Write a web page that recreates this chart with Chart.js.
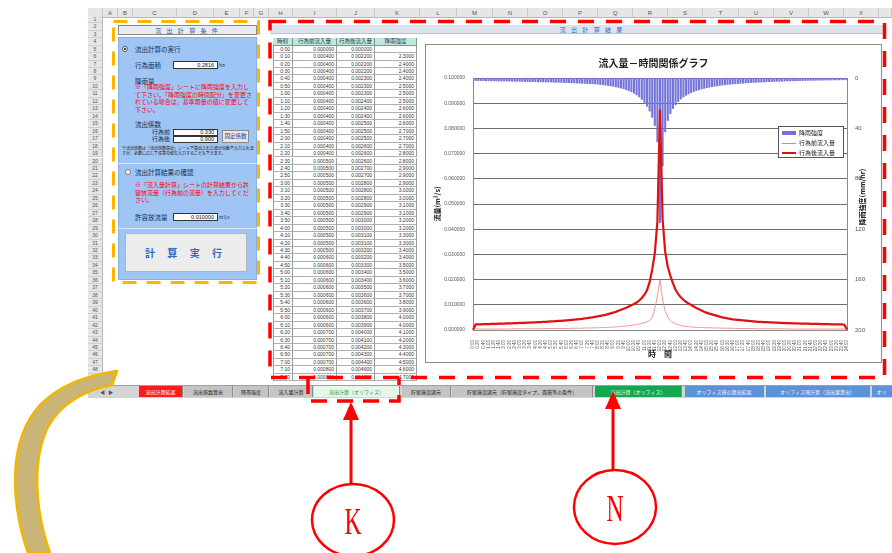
<!DOCTYPE html>
<html>
<head>
<meta charset="utf-8">
<script src="https://cdn.jsdelivr.net/npm/chart.js@4.4.1/dist/chart.umd.min.js"></script>
<style>
  html, body { margin: 0; padding: 0; }
  body { width: 892px; height: 553px; overflow: hidden; background: #fff; position: relative;
         font-family: "Noto Sans CJK JP", "Noto Sans", sans-serif; }
  .a { position: absolute; box-sizing: border-box; }
  .colhdr { top: 8px; height: 10px; background: #e6e6e6; border-right: 1px solid #c8c8c8;
            border-bottom: 1px solid #b8b8b8; font: 6px "Liberation Sans", sans-serif; color: #555;
            text-align: center; line-height: 10px; }
  .rownum { left: 88px; width: 15px; background: #e6e6e6; border-bottom: 1px solid #cfcfcf;
            border-right: 1px solid #b8b8b8; font: 5px "Liberation Sans", sans-serif; color: #555;
            text-align: center; }
  .cell { border-right: 1px solid #9a9a9a; border-bottom: 1px solid #b0b0b0; font: 5px "Liberation Sans", sans-serif;
          color: #333; text-align: right; padding-right: 2px; white-space: nowrap; overflow: hidden; }
  .th { border-right: 1px solid #7a9a90; border-bottom: 1px solid #7a9a90; background: #c4e6da;
        font: 5.5px "Noto Sans CJK JP", sans-serif; color: #1a3a60; text-align: center; white-space: nowrap; overflow: hidden; }
  .lbl { font-size: 6.5px; color: #10305a; white-space: nowrap; }
  .red { font-size: 6px; color: #ff0000; line-height: 7.6px; }
  .inp { background: #fff; border: 1px solid #333; font: 5.5px "Liberation Sans", sans-serif; text-align: right;
         padding-right: 3px; color: #111; }
  .tab { top: 386px; height: 11px; font-size: 5px; line-height: 11px; text-align: center; white-space: nowrap;
         overflow: hidden; border-right: 1px solid #8a8a8a; }
  #chartBox { left: 425px; top: 44px; width: 457px; height: 319px; background: #fff; border: 1px solid #8c8c8c; }
  #legend { left: 778px; top: 126px; width: 66px; height: 32px; background: #fff; border: 1px solid #555;
            font-size: 6px; color: #222; }
  #legend div { position: absolute; left: 20px; white-space: nowrap; }
  #legend span { position: absolute; }
</style>
</head>
<body>

<div id="sheet"></div>

<!-- left panel: calculation conditions -->
<div class="a" style="left:118px;top:25px;width:139px;height:10px;background:#e8ecf2;border:1px solid #8a8a8a;font-size:6px;color:#2a5aa0;text-align:center;line-height:9px;letter-spacing:2px;">流 出 計 算 条 件</div>
<div class="a" style="left:118px;top:37px;width:139px;height:243px;background:#9ec5f4;border:1px solid #8aaedc;"></div>
<div class="a" style="left:122px;top:46px;width:6px;height:6px;border-radius:50%;background:#fff;border:1px solid #555;"></div>
<div class="a" style="left:124px;top:48px;width:2px;height:2px;border-radius:50%;background:#000;"></div>
<div class="a lbl" style="left:135px;top:44px;">流出計算の実行</div>
<div class="a lbl" style="left:135px;top:60px;">行為面積</div>
<div class="a inp" style="left:173px;top:61px;width:45px;height:8px;line-height:6px;">0.2816</div>
<div class="a lbl" style="left:219px;top:61px;font-size:5px;">ha</div>
<div class="a lbl" style="left:135px;top:76px;">降雨量</div>
<div class="a red" style="left:135px;top:83px;width:117px;">※「降雨強度」シートに降雨強度を入力して下さい。「降雨強度の時間配分」を変更されている場合は、基準雨量の値に変更して下さい。</div>
<div class="a lbl" style="left:135px;top:119px;">流出係数</div>
<div class="a lbl" style="left:152px;top:127px;font-size:6px;">行為前</div>
<div class="a lbl" style="left:152px;top:134px;font-size:6px;">行為後</div>
<div class="a inp" style="left:173px;top:129px;width:45px;height:7px;line-height:5px;">0.330</div>
<div class="a inp" style="left:173px;top:136px;width:45px;height:7px;line-height:5px;">0.900</div>
<div class="a" style="left:222px;top:130px;width:27px;height:13px;background:#e4e8ee;border:1px solid #8a8a8a;font-size:5.5px;color:#20407a;text-align:center;line-height:11px;">固定係数</div>
<div class="a" style="left:122px;top:146px;width:132px;font-size:4px;line-height:5px;color:#111;">※流出係数は「流出係数算出」シートで算出された値が自動で入力されますが、必要に応じて任意の値を入力することもできます。</div>
<div class="a" style="left:118px;top:163px;width:139px;height:1px;background:#d6e6fa;"></div>
<div class="a" style="left:125px;top:169px;width:6px;height:6px;border-radius:50%;background:#fff;border:1px solid #777;"></div>
<div class="a lbl" style="left:135px;top:167px;">流出計算結果の確認</div>
<div class="a red" style="left:135px;top:181px;width:117px;">※「流入量計算」シートの計算結果から許容放流量（行為前の流量）を入力してください。</div>
<div class="a lbl" style="left:135px;top:212px;">許容放流量</div>
<div class="a inp" style="left:173px;top:213px;width:45px;height:8px;line-height:6px;">0.010000</div>
<div class="a lbl" style="left:219px;top:214px;font-size:4.5px;">m3/s</div>
<div class="a" style="left:118px;top:228px;width:139px;height:1px;background:#d6e6fa;"></div>
<div class="a" style="left:125px;top:233px;width:122px;height:39px;background:#ececec;border:1px solid #b4b4b4;font-size:10px;font-weight:bold;color:#2f6bc4;text-align:center;line-height:37px;letter-spacing:5px;">計 算 実 行</div>

<!-- result area -->
<div class="a" style="left:270px;top:25px;width:614px;height:9px;background:#dce3ec;border-bottom:1px solid #b8c2d0;font-size:6px;color:#2a6ad0;text-align:center;line-height:9px;letter-spacing:2px;padding-left:30px;">流 出 計 算 結 果</div>
<div id="table"></div>

<div id="chartBox" class="a"><canvas id="c" width="455" height="317"></canvas></div>
<div class="a" style="left:862px;top:197px;width:0;height:0;">
  <div style="position:absolute;left:-40px;top:-5px;width:80px;text-align:center;transform:rotate(-90deg);font-size:7px;font-weight:bold;color:#222;white-space:nowrap;">降雨強度(mm/hr)</div>
</div>
<div id="legend" class="a">
  <span style="left:3px;top:4px;width:14px;height:4px;background:#7373da;"></span>
  <div style="top:1px;">降雨強度</div>
  <span style="left:3px;top:16px;width:14px;height:1px;background:#f07c7c;"></span>
  <div style="top:11px;">行為前流入量</div>
  <span style="left:3px;top:25px;width:14px;height:2px;background:#e01010;"></span>
  <div style="top:21px;">行為後流入量</div>
</div>

<!-- sheet tabs -->
<div class="a" style="left:88px;top:385px;width:804px;height:13px;background:#d4d4d4;border-top:1px solid #a0a0a0;"></div>
<div class="a" style="left:100px;top:386px;font-size:5px;color:#555;line-height:11px;">◀ &nbsp; ▶</div>
<div id="tabs"></div>

<!-- annotation layer -->
<svg class="a" style="left:0;top:0;" width="892" height="553" viewBox="0 0 892 553">
  <path d="M 28 553 C 10 500 8 440 40 405 C 60 385 85 376 117 371 L 112 385 C 86 390 63 402 49 425 C 33 455 33 505 50 553 Z"
        fill="#c9b577" stroke="#f2b600" stroke-width="2.5" stroke-linejoin="round"/>
  <rect x="113.5" y="21.5" width="145" height="261" fill="none" stroke="#ffb400" stroke-width="3" stroke-dasharray="14 10"/>
  <rect x="270" y="21.5" width="614.5" height="356" fill="none" stroke="#ff0000" stroke-width="3.5" stroke-dasharray="16 12"/>
  <path d="M 308 378 L 308 401 L 399 401 L 399 378" fill="none" stroke="#ff0000" stroke-width="3.5" stroke-dasharray="16 10"/>
  <line x1="351" y1="484" x2="351" y2="418" stroke="#ff0000" stroke-width="3"/>
  <path d="M 351 402 L 343 420 L 359 420 Z" fill="#ff0000"/>
  <ellipse cx="353" cy="520" rx="41" ry="36" fill="#fff" stroke="#ff0000" stroke-width="2.5"/>
  <text x="353" y="534" text-anchor="middle" font-family="Liberation Serif, serif" font-size="38" fill="#ff0000" transform="translate(353 0) scale(0.62 1) translate(-353 0)">K</text>
  <line x1="613" y1="471" x2="613" y2="407" stroke="#ff0000" stroke-width="3"/>
  <path d="M 613 391 L 605 409 L 621 409 Z" fill="#ff0000"/>
  <ellipse cx="615" cy="507" rx="41" ry="37" fill="#fff" stroke="#ff0000" stroke-width="2.5"/>
  <text x="615" y="521" text-anchor="middle" font-family="Liberation Serif, serif" font-size="38" fill="#ff0000" transform="translate(615 0) scale(0.62 1) translate(-615 0)">N</text>
</svg>

<script>
// time axis: 10-minute steps over 24 hours
const times = [];
for (let m = 0; m <= 1440; m += 10) times.push(Math.floor(m / 60) + ':' + String(m % 60).padStart(2, '0'));

// rainfall intensity (mm/hr)
const rainIntensity = [
  2.3,2.3,2.4,2.4,2.4,2.5,2.5,2.5,2.6,2.6,
  2.6,2.7,2.7,2.7,2.8,2.8,2.9,2.9,2.9,3.0,
  3.0,3.1,3.1,3.2,3.2,3.3,3.3,3.4,3.4,3.5,
  3.5,3.6,3.7,3.7,3.8,3.9,4.0,4.0,4.1,4.2,
  4.3,4.4,4.5,4.6,4.7,4.8,4.9,5.0,5.2,5.4,
  5.6,5.9,6.2,6.5,6.9,7.3,7.8,8.3,8.9,9.6,
  10.4,11.3,12.4,13.7,15.3,17.2,19.6,22.6,26.5,31.5,
  38.0,51.0,115.0,70.0,43.0,34.0,28.5,24.5,21.5,19.0,
  17.0,15.4,14.0,12.9,11.9,11.0,10.3,9.6,9.0,8.5,
  8.0,7.6,7.2,6.8,6.5,6.2,5.9,5.7,5.4,5.2,
  5.0,
  4.8,4.7,4.5,4.4,4.2,4.1,3.9,3.8,3.7,3.6,
  3.5,3.4,3.3,3.2,3.1,3.0,2.9,2.9,2.8,2.7,
  2.6,2.6,2.5,2.5,2.4,2.4,2.3,2.3,2.2,2.2,
  2.1,2.1,2.0,2.0,2.0,1.9,1.9,1.9,1.8,1.8,
  1.8,1.7,1.7,1.7
];

// inflow before development (m3/s)
const inflowBefore = [
  0,
  0.0004,0.0004,0.0004,0.0004,0.0004,0.0004,0.0004,0.0004,0.0004,0.0004,
  0.0004,0.0004,0.0004,0.0004,0.0005,0.0005,0.0005,0.0005,0.0005,0.0005,
  0.0005,0.0005,0.0005,0.0005,0.0005,0.0005,0.0005,0.0006,0.0006,0.0006,
  0.0006,0.0006,0.0006,0.0006,0.0006,0.0006,0.0006,0.0007,0.0007,0.0007,
  0.0007,0.0007,0.0008,0.0008,0.0008,0.0008,0.0009,0.0009,0.0009,0.0010,
  0.0010,0.0011,0.0011,0.0012,0.0012,0.0013,0.0014,0.0015,0.0016,0.0017,
  0.0019,0.0020,0.0022,0.0024,0.0026,0.0029,0.0033,0.0038,0.0050,0.0085,0.0135,
  0.0199,
  0.0120,0.0075,0.0052,0.0038,0.0030,0.0025,0.0021,0.0018,0.0016,0.0014,
  0.0013,0.0012,0.0011,0.0011,0.0010,0.0010,0.0009,0.0009,0.0009,0.0008,
  0.0008,0.0008,0.0008,0.0007,0.0007,0.0007,0.0007,0.0007,0.0006,0.0006,
  0.0006,0.0006,0.0006,0.0006,0.0006,0.0006,0.0005,0.0005,0.0005,0.0005,
  0.0005,0.0005,0.0005,0.0005,0.0005,0.0005,0.0005,0.0005,0.0004,0.0004,
  0.0004,0.0004,0.0004,0.0004,0.0004,0.0004,0.0004,0.0004,0.0004,0.0004,
  0.0004,0.0004,0.0004,0.0004,0.0004,0.0004,0.0004,0.0004,0.0004,0.0004,0.0004,
  0
];

// inflow after development (m3/s)
const inflowAfter = [
  0,
  0.0022,0.0022,0.0022,0.0023,0.0023,0.0023,0.0024,0.0024,0.0024,0.0025,
  0.0025,0.0025,0.0026,0.0026,0.0026,0.0027,0.0027,0.0028,0.0028,0.0028,
  0.0029,0.0029,0.0030,0.0030,0.0031,0.0031,0.0032,0.0032,0.0033,0.0034,
  0.0034,0.0035,0.0036,0.0036,0.0037,0.0038,0.0039,0.0040,0.0041,0.0042,
  0.0043,0.0044,0.0046,0.0047,0.0049,0.0050,0.0052,0.0054,0.0056,0.0058,
  0.0060,0.0063,0.0066,0.0069,0.0072,0.0076,0.0080,0.0084,0.0088,0.0093,
  0.0098,0.0103,0.0109,0.0117,0.0127,0.0140,0.0158,0.0190,0.0240,0.0305,0.0430,
  0.0875,
  0.0440,0.0310,0.0250,0.0215,0.0185,0.0160,0.0142,0.0130,0.0120,0.0112,
  0.0105,0.0099,0.0093,0.0087,0.0082,0.0077,0.0072,0.0068,0.0065,0.0062,
  0.0059,0.0056,0.0053,0.0050,0.0048,0.0046,0.0044,0.0042,0.0041,0.0040,
  0.0039,0.0038,0.0037,0.0036,0.0035,0.0034,0.0033,0.0032,0.0032,0.0031,
  0.0031,0.0030,0.0030,0.0029,0.0029,0.0028,0.0028,0.0027,0.0027,0.0027,
  0.0026,0.0026,0.0026,0.0025,0.0025,0.0025,0.0025,0.0024,0.0024,0.0024,
  0.0024,0.0023,0.0023,0.0023,0.0023,0.0022,0.0022,0.0022,0.0022,0.0022,0.0021,
  0
];

const tableHeaders = ['時刻', '行為前流入量', '行為後流入量', '降雨強度'];
// sheet tabs: name, fill, text colour, left, width
const sheetTabs = [
  ['流出計算結果', '#ff1a1a', '#fff', 139, 44],
  ['流出係数算出', '#c4c4c4', '#222', 184, 49],
  ['降雨強度', '#c4c4c4', '#222', 234, 35],
  ['流入量計算', '#c4c4c4', '#222', 270, 43],
  ['流出計算（オリフィス）', '#e6f6ea', '#2a9a4a', 314, 86],
  ['貯留施設諸元', '#c4c4c4', '#222', 402, 49],
  ['貯留施設諸元（貯留施設タイプ、面積等の条件）', '#c4c4c4', '#222', 452, 141],
  ['流出計算（オリフィス）', '#12a84e', '#e8ffe8', 595, 87],
  ['オリフィス径の算出結果', '#5b93d6', '#eef4ff', 685, 79],
  ['オリフィス径計算（流出量算出）', '#5b93d6', '#eef4ff', 766, 104],
  ['オリ', '#5b93d6', '#eef4ff', 872, 20]
];

// spreadsheet frame: column letters and row numbers
(function () {
  const sheet = document.getElementById('sheet');
  const cols = [['A',103,118],['B',118,133],['C',133,177],['D',177,214],['E',214,240],['F',240,254],['G',254,269],
    ['H',269,293],['I',293,337],['J',337,375],['K',375,420],['L',420,457],['M',457,493],['N',493,528],['O',528,563],
    ['P',563,598],['Q',598,633],['R',633,668],['S',668,703],['T',703,739],['U',739,774],['V',774,809],['W',809,844],
    ['X',844,879],['',879,892]];
  let html = '<div class="a colhdr" style="left:88px;width:15px;"></div>';
  cols.forEach(c => { html += `<div class="a colhdr" style="left:${c[1]}px;width:${c[2]-c[1]}px;">${c[0]}</div>`; });
  for (let r = 1; r <= 50; r++) {
    const top = 45.6 + (r - 5) * 7.46;
    const h = Math.min(7.46, 385 - top);
    if (h <= 0) break;
    html += `<div class="a rownum" style="top:${top}px;height:${h}px;line-height:${h}px;">${r}</div>`;
  }
  sheet.innerHTML = html;
})();

// result table built from the same series
(function () {
  const t = document.getElementById('table');
  const cx = [273, 293, 337, 375, 417];
  let html = '';
  tableHeaders.forEach((h, j) => {
    html += `<div class="a th" style="left:${cx[j]}px;top:38px;width:${cx[j+1]-cx[j]}px;height:7.6px;line-height:7px;">${h}</div>`;
  });
  for (let i = 0; i <= 44; i++) {
    const top = 45.6 + i * 7.46;
    const vals = [times[i], inflowBefore[i].toFixed(6), inflowAfter[i].toFixed(6), i === 0 ? '' : rainIntensity[i].toFixed(4)];
    vals.forEach((v, j) => {
      html += `<div class="a cell" style="left:${cx[j]}px;top:${top}px;width:${cx[j+1]-cx[j]}px;height:7.46px;line-height:7px;${j===0?'border-left:1px solid #9a9a9a;':''}">${v}</div>`;
    });
  }
  t.innerHTML = html;
})();

// sheet tabs
(function () {
  const el = document.getElementById('tabs');
  let html = '';
  sheetTabs.forEach(t => {
    html += `<div class="a tab" style="left:${t[3]}px;width:${t[4]}px;background:${t[1]};color:${t[2]};">${t[0]}</div>`;
  });
  el.innerHTML = html;
})();

const jp = '"Noto Sans CJK JP", sans-serif';
new Chart(document.getElementById('c'), {
  type: 'bar',
  data: {
    labels: times,
    datasets: [
      { type: 'line', label: '行為前流入量', data: inflowBefore, yAxisID: 'y', borderColor: '#f07c7c',
        borderWidth: 0.8, pointRadius: 0, tension: 0, order: 1 },
      { type: 'line', label: '行為後流入量', data: inflowAfter, yAxisID: 'y', borderColor: '#e01010',
        borderWidth: 2.2, pointRadius: 0, tension: 0, order: 2 },
      { type: 'bar', label: '降雨強度', data: rainIntensity, yAxisID: 'y2', backgroundColor: '#7373da',
        borderWidth: 0, categoryPercentage: 0.8, barPercentage: 1.0, order: 3 }
    ]
  },
  options: {
    responsive: false,
    animation: false,
    layout: { padding: 0 },
    plugins: {
      legend: { display: false },
      tooltip: { enabled: false },
      title: { display: true, text: '流入量－時間関係グラフ', color: '#222',
               font: { family: jp, size: 10, weight: 'bold' }, padding: { top: 12, bottom: 9 } }
    },
    scales: {
      x: {
        offset: false,
        grid: { display: false },
        border: { color: '#8a8a8a' },
        ticks: { autoSkip: false, minRotation: 90, maxRotation: 90, padding: 2, color: '#555',
                 font: { family: '"Liberation Sans", sans-serif', size: 4.5 },
                 callback: (v, i) => (i % 2 === 0 ? times[i] : '') },
        title: { display: true, text: '時　間', color: '#222', font: { family: jp, size: 8, weight: 'bold' },
                 padding: { top: 0, bottom: 3 } },
        afterFit: s => { s.height = 32; }
      },
      y: {
        position: 'left', min: 0, max: 0.1,
        grid: { color: '#6e6e6e', lineWidth: 1, drawTicks: false },
        border: { color: '#8a8a8a' },
        ticks: { stepSize: 0.01, padding: 8, color: '#555', font: { family: '"Liberation Sans", sans-serif', size: 5 },
                 callback: v => v.toFixed(6) },
        title: { display: true, text: '流量(m³/s)', color: '#222', font: { family: jp, size: 7, weight: 'bold' },
                 padding: { top: 7, bottom: 0 } },
        afterFit: s => { s.width = 47; }
      },
      y2: {
        position: 'right', min: 0, max: 200, reverse: true,
        grid: { display: false, drawTicks: false },
        border: { color: '#8a8a8a' },
        ticks: { stepSize: 40, padding: 8, color: '#555', font: { family: '"Liberation Sans", sans-serif', size: 6 } },
        afterFit: s => { s.width = 34; }
      }
    }
  }
});
</script>
</body>
</html>
